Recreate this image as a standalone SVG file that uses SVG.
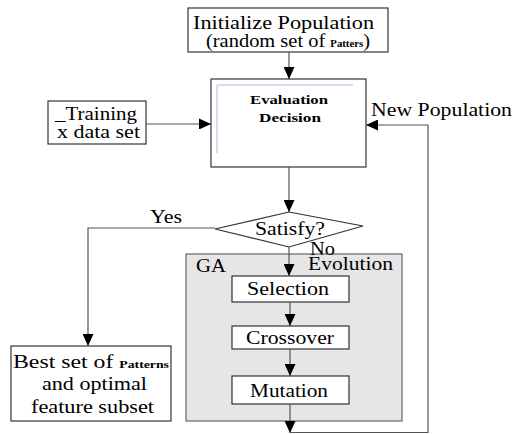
<svg xmlns="http://www.w3.org/2000/svg" width="513" height="434" viewBox="0 0 513 434">
<defs>
<marker id="ahv" markerWidth="14" markerHeight="12" refX="12" refY="7" orient="auto" markerUnits="userSpaceOnUse">
<path d="M0,1.5 L12,7 L0,12.5 Z" fill="#000"/>
</marker>
</defs>
<style>
.box{fill:#fff;stroke:#333;stroke-width:1.2}
.c{fill:none;stroke:#555;stroke-width:1.2}
text{font-family:'Liberation Serif','DejaVu Serif',serif;fill:#000}
.t{font-size:19px}
.tb{font-weight:bold}
</style>
<rect width="513" height="434" fill="#fff"/>
<g id="ga">
<rect x="186" y="254" width="216" height="167" fill="#e6e6e6" stroke="#666" stroke-width="1.2"/>
<text class="t" x="196" y="272" textLength="30" lengthAdjust="spacingAndGlyphs">GA</text>
<text class="t" x="308" y="270" textLength="85" lengthAdjust="spacingAndGlyphs">Evolution</text>
</g>
<g id="init">
<rect class="box" x="188" y="8" width="200" height="44"/>
<text class="t" x="193" y="29" font-size="18" textLength="181" lengthAdjust="spacingAndGlyphs">Initialize Population</text>
<text class="t" x="206" y="47" font-size="14.5" textLength="164" lengthAdjust="spacingAndGlyphs">(random set of <tspan class="tb" font-size="10">Patters</tspan>)</text>
</g>
<g id="eval">
<rect class="box" x="211" y="79" width="155" height="88"/>
<path d="M217,153 V85 H353" fill="none" stroke="#b8b8e0" stroke-width="1"/>
<text class="tb" x="250" y="104" font-size="13" textLength="78" lengthAdjust="spacingAndGlyphs">Evaluation</text>
<text class="tb" x="259" y="122" font-size="13" textLength="62" lengthAdjust="spacingAndGlyphs">Decision</text>
</g>
<g id="training">
<rect class="box" x="48" y="101" width="98" height="43"/>
<text class="t" x="55" y="120" font-size="17" textLength="82" lengthAdjust="spacingAndGlyphs">_Training</text>
<text class="t" x="57" y="138" font-size="17" textLength="83" lengthAdjust="spacingAndGlyphs">x data set</text>
</g>
<g id="satisfy">
<path d="M289,212 L363,226 L289,247 L215,229 Z" fill="#fff" stroke="#333" stroke-width="1.2"/>
<text class="t" x="255" y="235" font-size="17" textLength="70" lengthAdjust="spacingAndGlyphs">Satisfy?</text>
</g>
<g id="selection">
<rect class="box" x="232" y="276" width="117" height="26"/>
<text class="t" x="247" y="295" textLength="82" lengthAdjust="spacingAndGlyphs">Selection</text>
</g>
<g id="crossover">
<rect class="box" x="232" y="326" width="117" height="23"/>
<text class="t" x="246" y="344" textLength="88" lengthAdjust="spacingAndGlyphs">Crossover</text>
</g>
<g id="mutation">
<rect class="box" x="232" y="376" width="117" height="28"/>
<text class="t" x="250" y="397" textLength="78" lengthAdjust="spacingAndGlyphs">Mutation</text>
</g>
<g id="best">
<rect class="box" x="11" y="346" width="160" height="75"/>
<text class="t" x="13" y="368" textLength="156" lengthAdjust="spacingAndGlyphs">Best set of <tspan class="tb" font-size="11">Patterns</tspan></text>
<text class="t" x="42" y="390" textLength="105" lengthAdjust="spacingAndGlyphs">and optimal</text>
<text class="t" x="31" y="413" textLength="123" lengthAdjust="spacingAndGlyphs">feature subset</text>
</g>
<g id="connectors">
<path class="c" d="M289,52 V79" marker-end="url(#ahv)"/>
<path class="c" d="M146,124 H211" marker-end="url(#ahv)"/>
<path class="c" d="M289,167 V212" marker-end="url(#ahv)"/>
<path class="c" d="M215,228 H88 V346" marker-end="url(#ahv)"/>
<path class="c" d="M289,247 V276" marker-end="url(#ahv)"/>
<path class="c" d="M290,302 V326" marker-end="url(#ahv)"/>
<path class="c" d="M290,349 V376" marker-end="url(#ahv)"/>
<path class="c" d="M290,404 V433" marker-end="url(#ahv)"/>
<path class="c" d="M290,432.5 H428 V125 H366" marker-end="url(#ahv)"/>
<text class="t" x="150" y="223" textLength="32" lengthAdjust="spacingAndGlyphs">Yes</text>
<text class="t" x="310" y="255" font-size="17" textLength="25" lengthAdjust="spacingAndGlyphs">No</text>
<text class="t" x="371" y="116" textLength="141" lengthAdjust="spacingAndGlyphs">New Population</text>
</g>
</svg>
